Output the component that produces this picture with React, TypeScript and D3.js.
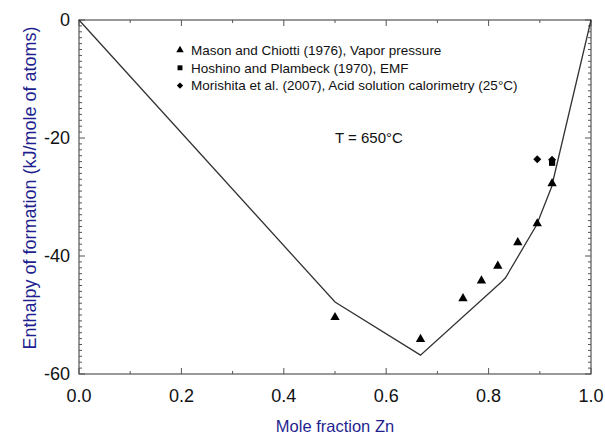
import React from "react";
import * as d3 from "d3";

const W = 605;
const H = 435;
const M = { left: 79, right: 591, top: 20, bottom: 374 };

// Model curve
const curveX = [0, 0.5, 0.667, 0.825, 0.833, 0.894, 0.923, 1];
const curveY = [0, -47.8, -56.8, -44.4, -43.7, -34.7, -28.3, 0];

// Mason and Chiotti (1976), Vapor pressure
const masonX = [0.5, 0.667, 0.75, 0.786, 0.818, 0.857, 0.895, 0.924];
const masonY = [-50.4, -54.1, -47.2, -44.2, -41.7, -37.7, -34.5, -27.7];

// Hoshino and Plambeck (1970), EMF
const hoshinoX = [0.924];
const hoshinoY = [-24.2];

// Morishita et al. (2007), Acid solution calorimetry
const morishitaX = [0.895, 0.924];
const morishitaY = [-23.6, -23.7];

const xTicks = [0, 0.2, 0.4, 0.6, 0.8, 1.0];
const yTicks = [0, -20, -40, -60];

const legendLabels = [
  "Mason and Chiotti (1976), Vapor pressure",
  "Hoshino and Plambeck (1970), EMF",
  "Morishita et al. (2007), Acid solution calorimetry (25°C)",
];

const FONT = "'Liberation Sans', Arial, Helvetica, sans-serif";
const AXIS_COLOR = "#555";
const TITLE_COLOR = "#1f1f8f";

export default function App() {
  const x = d3.scaleLinear().domain([0, 1]).range([M.left, M.right]);
  const y = d3.scaleLinear().domain([-60, 0]).range([M.bottom, M.top]);

  const line = d3
    .line<number>()
    .x((_, i) => x(curveX[i]))
    .y((d) => y(d));

  const tri = d3.symbol().type(d3.symbolTriangle).size(38)()!;
  const sq = d3.symbol().type(d3.symbolSquare).size(38)()!;
  const dia = d3.symbol().type(d3.symbolSquare).size(32)()!; // rotated 45° below
  const legendSymbols = [tri, sq, dia];

  const xMinor = d3.range(0, 1.0001, 0.1);
  const yMinor = d3.range(-60, 0.0001, 1);

  return (
    <svg
      width={W}
      height={H}
      style={{ position: "absolute", left: 0, top: 0, background: "#fff" }}
      fontFamily={FONT}
    >
      {/* Frame */}
      <rect
        x={M.left}
        y={M.top}
        width={M.right - M.left}
        height={M.bottom - M.top}
        fill="none"
        stroke={AXIS_COLOR}
        strokeWidth={1.2}
      />

      {/* X ticks bottom & top */}
      {xMinor.map((v, i) => {
        const major = i % 2 === 0;
        const len = major ? 6 : 3;
        return (
          <g key={"xt" + i} stroke={AXIS_COLOR} strokeWidth={1}>
            <line x1={x(v)} x2={x(v)} y1={M.bottom} y2={M.bottom - len} />
            <line x1={x(v)} x2={x(v)} y1={M.top} y2={M.top + len} />
          </g>
        );
      })}

      {/* Y ticks left & right */}
      {yMinor.map((v, i) => {
        const major = Math.round(v) % 20 === 0;
        const len = major ? 6 : 3;
        return (
          <g key={"yt" + i} stroke={AXIS_COLOR} strokeWidth={1}>
            <line x1={M.left} x2={M.left + len} y1={y(v)} y2={y(v)} />
            <line x1={M.right} x2={M.right - len} y1={y(v)} y2={y(v)} />
          </g>
        );
      })}

      {/* X tick labels */}
      {xTicks.map((v) => (
        <text
          key={"xl" + v}
          x={x(v)}
          y={402}
          textAnchor="middle"
          fontSize={18}
          fill="#111"
        >
          {v.toFixed(1)}
        </text>
      ))}

      {/* Y tick labels */}
      {yTicks.map((v) => (
        <text
          key={"yl" + v}
          x={70}
          y={y(v)}
          dy="0.36em"
          textAnchor="end"
          fontSize={18}
          fill="#111"
        >
          {v}
        </text>
      ))}

      {/* Axis titles */}
      <text
        x={(M.left + M.right) / 2}
        y={432}
        textAnchor="middle"
        fontSize={16.5}
        fill={TITLE_COLOR}
      >
        Mole fraction Zn
      </text>
      <text
        transform={`translate(36, ${(M.top + M.bottom) / 2 - 9}) rotate(-90)`}
        textAnchor="middle"
        fontSize={18}
        fill={TITLE_COLOR}
      >
        Enthalpy of formation (kJ/mole of atoms)
      </text>

      {/* Model line */}
      <path
        d={line(curveY) || ""}
        fill="none"
        stroke="#333"
        strokeWidth={1.3}
      />

      {/* Data points */}
      {masonX.map((v, i) => (
        <path
          key={"m" + i}
          d={tri}
          transform={`translate(${x(v)}, ${y(masonY[i])})`}
          fill="#000"
        />
      ))}
      {hoshinoX.map((v, i) => (
        <path
          key={"h" + i}
          d={sq}
          transform={`translate(${x(v)}, ${y(hoshinoY[i])})`}
          fill="#000"
        />
      ))}
      {morishitaX.map((v, i) => (
        <path
          key={"d" + i}
          d={dia}
          transform={`translate(${x(v)}, ${y(morishitaY[i])}) rotate(45)`}
          fill="#000"
        />
      ))}

      {/* Legend */}
      {legendLabels.map((lab, i) => {
        const cy = 50 + i * 17.8;
        return (
          <g key={"lg" + i}>
            <path
              d={legendSymbols[i]}
              transform={`translate(180, ${cy}) scale(0.8)${i === 2 ? " rotate(45)" : ""}`}
              fill="#000"
            />
            <text x={191} y={cy} dy="0.36em" fontSize={13.5} fill="#111">
              {lab}
            </text>
          </g>
        );
      })}

      {/* Temperature annotation */}
      <text x={335} y={138} dy="0.36em" fontSize={15} fill="#111">
        T = 650°C
      </text>
    </svg>
  );
}
